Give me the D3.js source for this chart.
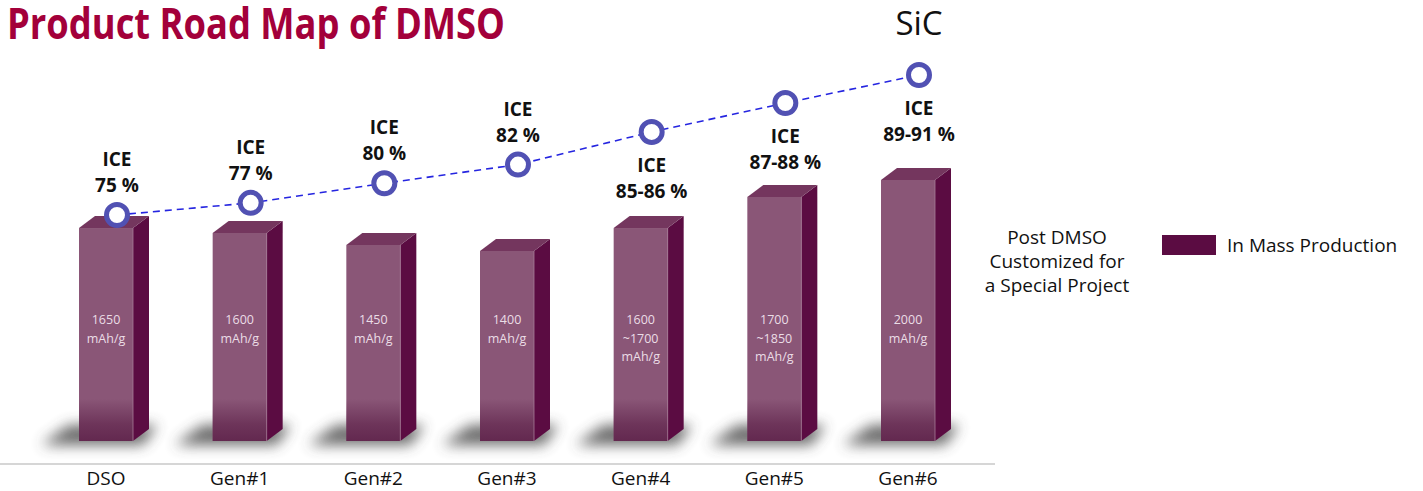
<!DOCTYPE html>
<html>
<head>
<meta charset="utf-8">
<script src="https://cdn.jsdelivr.net/npm/d3@7"></script>
<style>
  body { margin: 0; background: #fff; }
  svg { display: block; font-family: "Open Sans", "Noto Sans", sans-serif; }
</style>
</head>
<body>
<div id="chart"></div>
<script>
// categories + values
var categories = ["DSO", "Gen#1", "Gen#2", "Gen#3", "Gen#4", "Gen#5", "Gen#6"];
// relative bar height (arbitrary units, tallest = 100)
var barLevel = [81.6, 79.7, 75.1, 72.8, 81.6, 93.5, 100];
var capacityText = [["1650"], ["1600"], ["1450"], ["1400"], ["1600", "~1700"], ["1700", "~1850"], ["2000"]];
// ICE line level (plotted position) and label text
var iceLevel = [75, 76.3, 78.4, 80.4, 83.9, 87.0, 90];
var iceText = ["75 %", "77 %", "80 %", "82 %", "85-86 %", "87-88 %", "89-91 %"];

var width = 1423, height = 491;
var svg = d3.select("#chart").append("svg")
  .attr("width", width).attr("height", height);

var defs = svg.append("defs");
defs.append("filter").attr("id", "blur")
  .attr("x", "-50%").attr("y", "-100%").attr("width", "200%").attr("height", "300%")
  .append("feGaussianBlur").attr("stdDeviation", 7);
var shade = defs.append("linearGradient").attr("id", "shade")
  .attr("x1", 0).attr("y1", 0).attr("x2", 0).attr("y2", 1);
shade.append("stop").attr("offset", "0%").attr("stop-color", "#561942").attr("stop-opacity", 0);
shade.append("stop").attr("offset", "60%").attr("stop-color", "#561942").attr("stop-opacity", 0.55);
shade.append("stop").attr("offset", "100%").attr("stop-color", "#561942").attr("stop-opacity", 0.75);

var x = d3.scalePoint().domain(categories).range([106, 908]);
var yBar = d3.scaleLinear().domain([0, 100]).range([441, 180]);
var yIce = d3.scaleLinear().domain([75, 90]).range([215, 75]);

var barW = 54, dx = 16, dy = 12, base = 441;

// title
svg.append("text").attr("x", 7).attr("y", 39)
  .attr("font-size", 43).attr("font-weight", 700).attr("fill", "#a3003a")
  .attr("textLength", 498).attr("lengthAdjust", "spacingAndGlyphs")
  .text("Product Road Map of DMSO");

svg.append("text").attr("x", 919).attr("y", 35).attr("text-anchor", "middle")
  .attr("font-size", 33).attr("fill", "#111").text("SiC");

// axis baseline
svg.append("line").attr("x1", 0).attr("x2", 995).attr("y1", 464).attr("y2", 464)
  .attr("stroke", "#c9c9c9").attr("stroke-width", 1.5);

var g = svg.selectAll("g.bar").data(categories).enter().append("g").attr("class", "bar");

// shadows, cast down-left
g.append("path")
  .attr("d", function(d) {
    var l = x(d) - barW / 2;
    return "M" + (l - 38) + "," + (base + 4) + "L" + (l - 10) + "," + (base - 16) +
      "L" + (l + barW + dx + 8) + "," + (base - 16) + "L" + (l + barW + 10) + "," + (base + 4) + "Z";
  })
  .attr("fill", "#444").attr("opacity", 0.8).attr("filter", "url(#blur)");

// front face
g.append("rect")
  .attr("x", function(d) { return x(d) - barW / 2; })
  .attr("y", function(d, i) { return yBar(barLevel[i]); })
  .attr("width", barW)
  .attr("height", function(d, i) { return base - yBar(barLevel[i]); })
  .attr("fill", "#8a5677");
// darker bottom shading
g.append("rect")
  .attr("x", function(d) { return x(d) - barW / 2; })
  .attr("y", base - 42).attr("width", barW).attr("height", 42)
  .attr("fill", "url(#shade)");

// side face
g.append("path")
  .attr("d", function(d, i) {
    var r = x(d) + barW / 2, t = yBar(barLevel[i]);
    return "M" + r + "," + t + "L" + (r + dx) + "," + (t - dy) +
      "L" + (r + dx) + "," + (base - dy) + "L" + r + "," + base + "Z";
  })
  .attr("fill", "#5b0c42");
// top face
g.append("path")
  .attr("d", function(d, i) {
    var l = x(d) - barW / 2, r = l + barW, t = yBar(barLevel[i]);
    return "M" + l + "," + t + "L" + r + "," + t + "L" + (r + dx) + "," + (t - dy) +
      "L" + (l + dx) + "," + (t - dy) + "Z";
  })
  .attr("fill", "#74365e");
g.append("line")
  .attr("x1", function(d) { return x(d) + barW / 2; })
  .attr("x2", function(d) { return x(d) + barW / 2; })
  .attr("y1", function(d, i) { return yBar(barLevel[i]); })
  .attr("y2", base)
  .attr("stroke", "#a77c97").attr("stroke-width", 0.8);

// capacity labels
g.each(function(d, i) {
  var lines = capacityText[i].concat(["mAh/g"]);
  var t = d3.select(this).append("text")
    .attr("text-anchor", "middle").attr("font-size", 12.5).attr("fill", "#eadde6");
  lines.forEach(function(s, k) {
    t.append("tspan").attr("x", x(d)).attr("y", 324 + k * 18.5).text(s);
  });
});

// category labels
g.append("text")
  .attr("x", function(d) { return x(d); }).attr("y", 485)
  .attr("text-anchor", "middle").attr("font-size", 19).attr("fill", "#111")
  .text(function(d) { return d; });

// ICE line
var px = function(d) { return x(d) + 11; };
var line = d3.line()
  .x(function(d) { return px(d); })
  .y(function(d, i) { return yIce(iceLevel[i]); });
svg.append("path").datum(categories).attr("d", line)
  .attr("fill", "none").attr("stroke", "#2525e0").attr("stroke-width", 1.6)
  .attr("stroke-dasharray", "7,5");

svg.selectAll("circle.pt").data(categories).enter().append("circle")
  .attr("class", "pt")
  .attr("cx", function(d) { return px(d); })
  .attr("cy", function(d, i) { return yIce(iceLevel[i]); })
  .attr("r", 10.5)
  .attr("fill", "#fff").attr("stroke", "#5151b3").attr("stroke-width", 5);

// ICE labels: above the point for early gens, below for later
svg.selectAll("text.ice").data(categories).enter().append("text")
  .attr("class", "ice")
  .attr("text-anchor", "middle").attr("font-size", 19).attr("font-weight", 700).attr("fill", "#111")
  .each(function(d, i) {
    var cy = yIce(iceLevel[i]);
    var y0 = i < 4 ? cy - 49 : cy + 40;
    var t = d3.select(this);
    t.append("tspan").attr("x", px(d)).attr("y", y0).text("ICE");
    t.append("tspan").attr("x", px(d)).attr("y", y0 + 26).text(iceText[i]);
  });

// side note + legend
var note = svg.append("text").attr("text-anchor", "middle").attr("font-size", 19).attr("fill", "#111");
["Post DMSO", "Customized for", "a Special Project"].forEach(function(s, k) {
  note.append("tspan").attr("x", 1057).attr("y", 244 + k * 24).text(s);
});
svg.append("rect").attr("x", 1162).attr("y", 235).attr("width", 54).attr("height", 20).attr("fill", "#5b0c42");
svg.append("text").attr("x", 1227).attr("y", 252).attr("font-size", 19).attr("fill", "#111")
  .text("In Mass Production");
</script>
</body>
</html>
